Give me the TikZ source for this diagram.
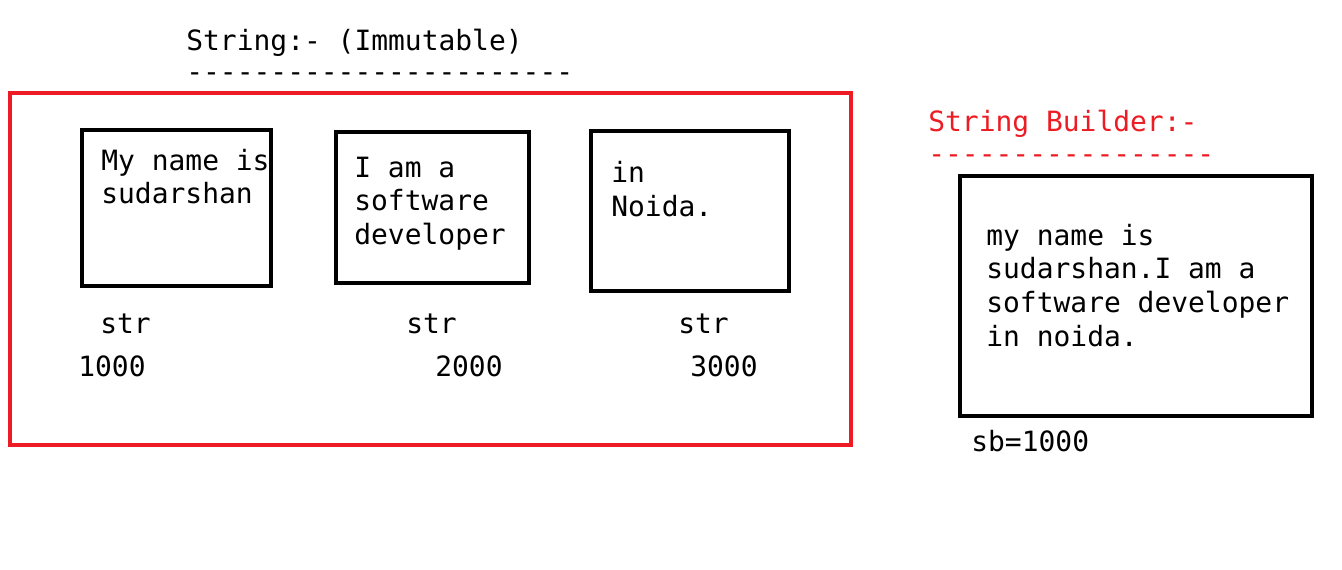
\documentclass[tikz,border=0pt]{standalone}
\usepackage{fontspec}
\setmonofont{DejaVu Sans Mono}
\definecolor{paintred}{RGB}{237,28,36}
\tikzset{
  txt/.style={anchor=base west, inner sep=0pt, font=\ttfamily\fontsize{15.9pt}{19pt}\selectfont},
  membox/.style={draw, line width=2.6pt},
}

\begin{document}
\begin{tikzpicture}[x=0.02cm, y=-0.02cm]
        \useasboundingbox (0,0) rectangle (1342,569);
        % Headings
        \node [txt] (strhead) at (186,50) {String:- (Immutable)};
        \node [txt] (strrule) at (186,81) {-----------------------};
        \node [txt, text=paintred] (sbhead) at (928,131) {String Builder:-};
        \node [txt, text=paintred] (sbrule) at (928,163) {-----------------};
        % String pool
        \draw [line width=2.3pt, paintred] (10,93) rectangle (851,445);
        \draw [membox] (82,130) rectangle (271,286);
        \draw [membox] (336,132) rectangle (529,283);
        \draw [membox] (591,131) rectangle (789,291);
        % Contents
        \node [txt] (one a) at (101,170) {My name is};
        \node [txt] (one b) at (101,203) {sudarshan};
        \node [txt] (two a) at (354,177) {I am a};
        \node [txt] (two b) at (354,210) {software};
        \node [txt] (two c) at (354,244) {developer};
        \node [txt] (three a) at (611,182) {in};
        \node [txt] (three b) at (611,216) {Noida.};
        % References and addresses
        \foreach \name/\sx/\ax/\addr in {one/100/78/1000, two/406/435/2000, three/678/690/3000}
        {
        \node [txt] (\name ref) at (\sx,333) {str};
        \node [txt] (\name addr) at (\ax,376) {\addr};
        }
        % String builder
        \draw [membox] (960,176) rectangle (1312,416);
        \node [txt] (sb a) at (986,245) {my name is};
        \node [txt] (sb b) at (986,278) {sudarshan.I am a};
        \node [txt] (sb c) at (986,312) {software developer};
        \node [txt] (sb d) at (986,346) {in noida.};
        \node [txt] (sbaddr) at (971,451) {sb=1000};
\end{tikzpicture}
\end{document}
